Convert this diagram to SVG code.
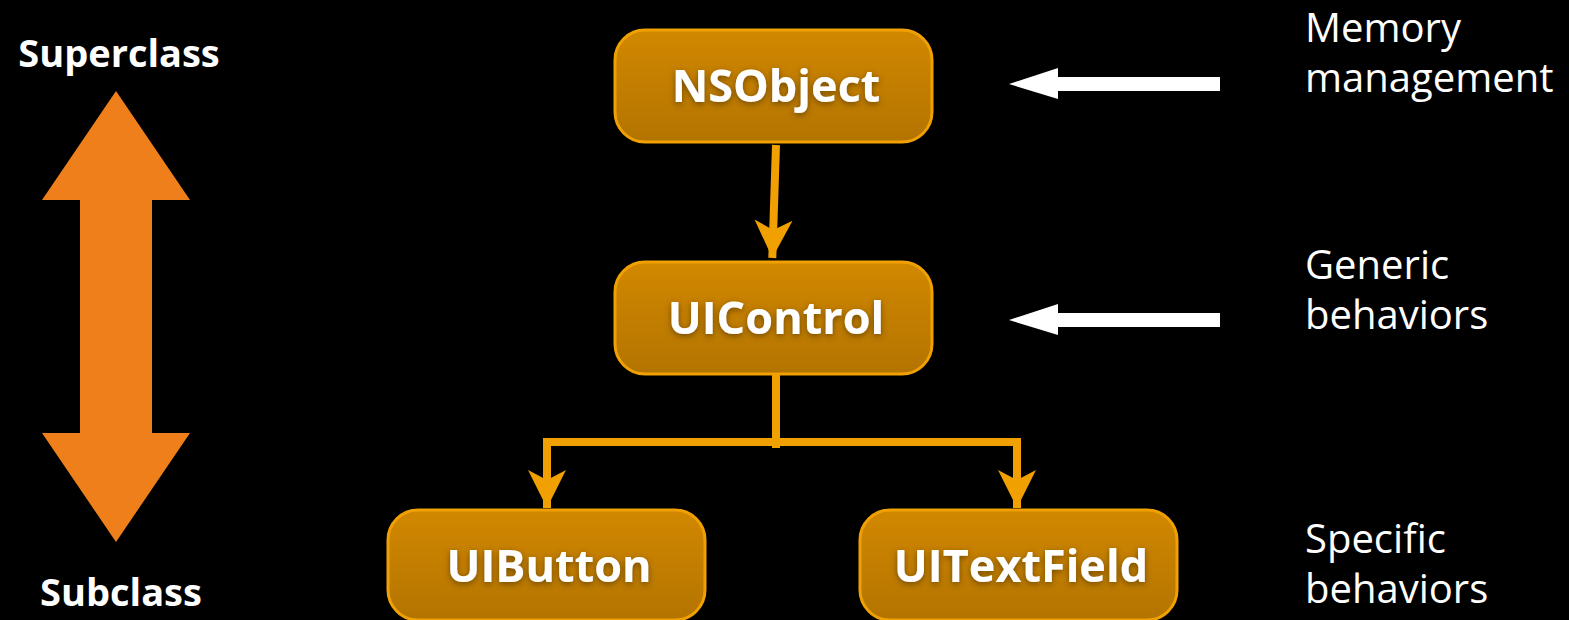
<svg xmlns="http://www.w3.org/2000/svg" width="1569" height="620" viewBox="0 0 1569 620">
<defs>
<linearGradient id="boxg" x1="0" y1="0" x2="0" y2="1">
<stop offset="0" stop-color="#d28800"/>
<stop offset="1" stop-color="#b37400"/>
</linearGradient>
<filter id="ts" x="-10%" y="-30%" width="120%" height="160%">
<feDropShadow dx="0" dy="2" stdDeviation="3" flood-color="#5a3a00" flood-opacity="0.8"/>
</filter>
<marker id="ah" viewBox="0 0 40 40" markerUnits="userSpaceOnUse" markerWidth="40" markerHeight="40" refX="38" refY="20" orient="auto">
<path d="M0,1 L38,20 L0,39 L10,20 Z" fill="#f0a000"/>
</marker>
<style>
.box{fill:url(#boxg);stroke:#f0a000;stroke-width:3}
.lbl{font-family:"Open Sans","DejaVu Sans",sans-serif;font-weight:bold;font-size:45px;fill:#ffffff;text-anchor:middle;filter:url(#ts)}
.side{font-family:"Open Sans","DejaVu Sans",sans-serif;font-weight:bold;font-size:38px;fill:#ffffff;text-anchor:middle}
.note{font-family:"Open Sans","DejaVu Sans",sans-serif;font-size:40px;fill:#ffffff}
.con{fill:none;stroke:#f0a000;stroke-width:8}
</style>
</defs>
<rect width="1569" height="620" fill="#000000"/>
<g id="connectors">
<line class="con" x1="776" y1="145" x2="772.3" y2="258" marker-end="url(#ah)"/>
<polyline class="con" points="776,374 776,448"/>
<polyline class="con" points="547,508 547,442 1017,442 1017,508" marker-end="url(#ah)"/>
<line class="con" x1="547" y1="470" x2="547" y2="508" marker-end="url(#ah)"/>
<rect x="543" y="438" width="8" height="8" fill="#f0a000"/>
<rect x="1013" y="438" width="8" height="8" fill="#f0a000"/>
<polygon points="1220,77 1058,77 1058,68 1009,84 1058,99 1058,91 1220,91" fill="#ffffff"/>
<polygon points="1220,313 1058,313 1058,304 1009,320 1058,335 1058,327 1220,327" fill="#ffffff"/>
</g>
<g id="hierarchy-arrow">
<polygon points="116,91 190,200 152,200 152,433 190,433 116,542 42,433 80,433 80,200 42,200" fill="#ee7f1a"/>
</g>
<g id="superclass-label"><text class="side" x="119" y="67">Superclass</text></g>
<g id="subclass-label"><text class="side" x="121" y="606">Subclass</text></g>
<g id="NSObject">
<rect class="box" x="615" y="30" width="317" height="112" rx="30"/>
<text class="lbl" x="776" y="102">NSObject</text>
</g>
<g id="UIControl">
<rect class="box" x="615" y="262" width="317" height="112" rx="30"/>
<text class="lbl" x="776" y="334">UIControl</text>
</g>
<g id="UIButton">
<rect class="box" x="388" y="510" width="317" height="110" rx="30"/>
<text class="lbl" x="549" y="582">UIButton</text>
</g>
<g id="UITextField">
<rect class="box" x="860" y="510" width="317" height="110" rx="30"/>
<text class="lbl" x="1021" y="582">UITextField</text>
</g>
<g id="notes">
<text class="note" x="1305" y="42">Memory</text>
<text class="note" x="1305" y="92">management</text>
<text class="note" x="1305" y="279">Generic</text>
<text class="note" x="1305" y="329">behaviors</text>
<text class="note" x="1305" y="553">Specific</text>
<text class="note" x="1305" y="603">behaviors</text>
</g>
</svg>
